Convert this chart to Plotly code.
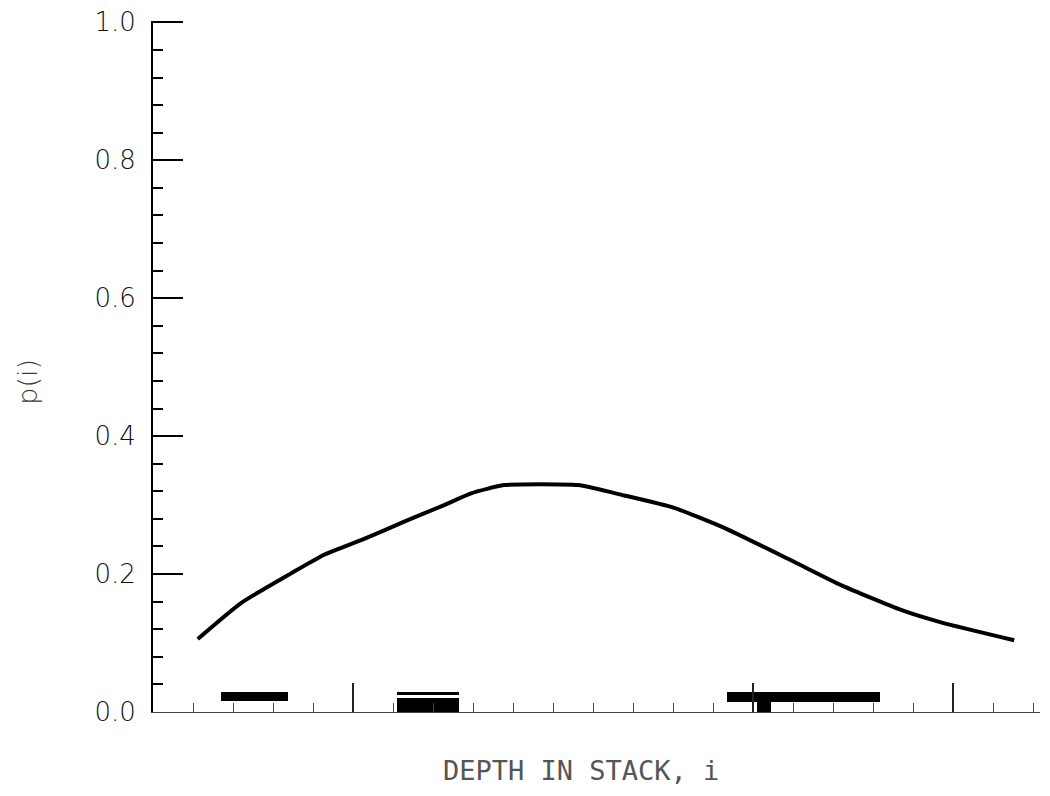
import plotly.graph_objects as go

# Curve p(i) versus depth in stack i
depth_i = [1.12, 2.2, 3.45, 4.28, 5.28, 6.28, 7.28, 7.95, 8.78, 10.62,
           11.78, 13.03, 14.28, 15.95, 17.2, 18.7, 19.7, 21.53]
p_i = [0.106, 0.158, 0.201, 0.228, 0.251, 0.276, 0.300, 0.317, 0.329, 0.329,
       0.314, 0.296, 0.267, 0.220, 0.184, 0.148, 0.130, 0.104]

# Dark blocks near the x axis (scan marks), in data units
block_x0 = [1.70, 6.09, 6.09, 14.34, 15.10]
block_x1 = [3.37, 7.64, 7.64, 18.18, 15.45]
block_y0 = [0.016, 0.000, 0.0246, 0.015, 0.000]
block_y1 = [0.029, 0.0207, 0.0294, 0.029, 0.015]

y_ticks = [0.0, 0.2, 0.4, 0.6, 0.8, 1.0]
y_labels = ["0.0", "0.2", "0.4", "0.6", "0.8", "1.0"]
x_major = [5, 15, 20]
x_title = "DEPTH IN STACK, i"
y_title = "p(i)"

fig = go.Figure()

fig.add_trace(go.Bar(
    x=[(a + b) / 2 for a, b in zip(block_x0, block_x1)],
    y=[b - a for a, b in zip(block_y0, block_y1)],
    base=block_y0,
    width=[b - a for a, b in zip(block_x0, block_x1)],
    marker=dict(color="black", line=dict(width=0)),
    hoverinfo="skip",
    showlegend=False,
))

fig.add_trace(go.Scatter(
    x=depth_i, y=p_i, mode="lines",
    line=dict(color="black", width=4, shape="spline", smoothing=0.5),
    showlegend=False,
))

font_family = "DejaVu Sans"

# The page body adds an 8 px offset, so margins are shifted accordingly.
fig.update_layout(
    width=1050, height=796,
    margin=dict(l=145, r=18, t=13, b=92),
    paper_bgcolor="white", plot_bgcolor="white",
    bargap=0,
    xaxis=dict(
        range=[0, 22.175], automargin=False,
        showgrid=False, zeroline=False,
        showline=True, linecolor="#444444", linewidth=1,
        ticks="inside", tickvals=x_major, ticklen=29, tickwidth=1.5,
        tickcolor="#222222",
        showticklabels=False,
        minor=dict(ticks="inside", dtick=1, tick0=0, ticklen=9,
                   tickwidth=1, tickcolor="#444444", showgrid=False),
    ),
    yaxis=dict(
        range=[0, 1.002], automargin=False,
        showgrid=False, zeroline=False,
        showline=True, linecolor="black", linewidth=2,
        ticks="inside", tickvals=y_ticks, ticktext=y_labels,
        ticklen=30, tickwidth=1.8, tickcolor="black",
        ticklabelstandoff=10, ticklabeloverflow="allow",
        tickfont=dict(family=font_family, size=26, color="#111111", weight=300),
        minor=dict(ticks="inside", dtick=0.04, tick0=0, ticklen=10,
                   tickwidth=1.5, tickcolor="black", showgrid=False),
    ),
    annotations=[
        dict(text=x_title, xref="paper", yref="paper",
             x=0.4825, y=-0.084, xanchor="center", yanchor="middle",
             showarrow=False,
             font=dict(family="DejaVu Sans Mono", size=27, color="#555555")),
        dict(text=y_title, xref="paper", yref="paper",
             x=-0.141, y=0.478, xanchor="center", yanchor="middle",
             textangle=-90, showarrow=False,
             font=dict(family=font_family, size=27, color="#3a3a3a", weight=300)),
    ],
)

fig.write_html("out.html")
